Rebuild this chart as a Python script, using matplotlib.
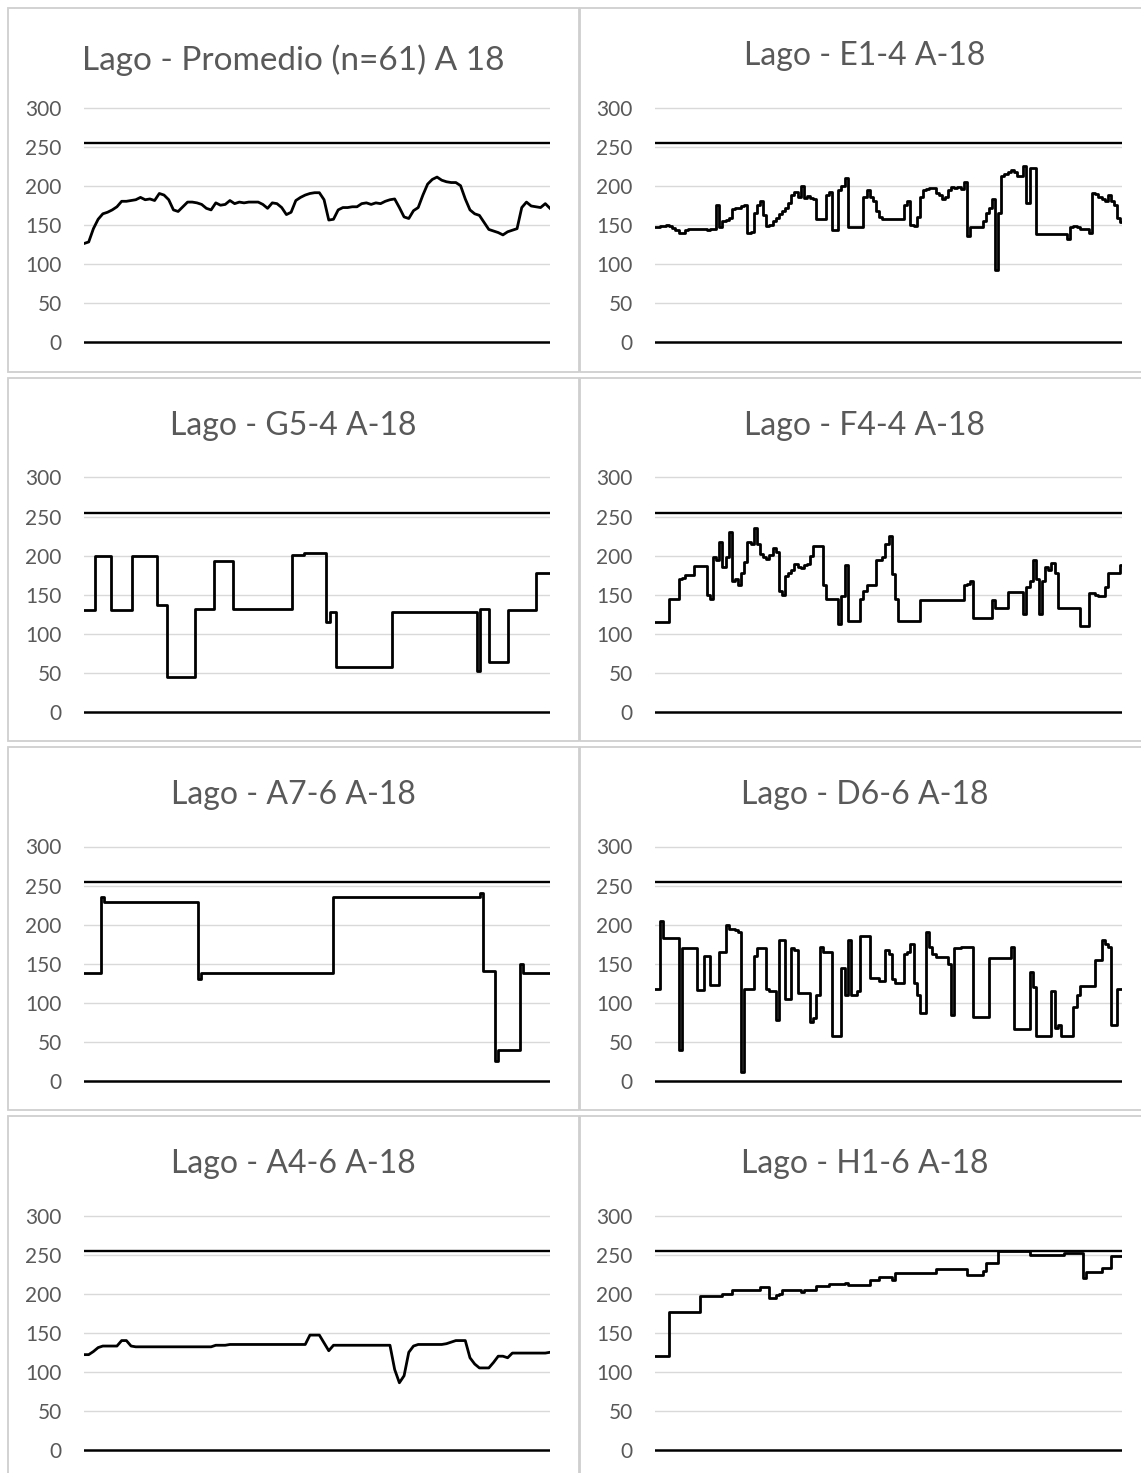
import numpy as np
import matplotlib
matplotlib.use("Agg")
import matplotlib.pyplot as plt
from matplotlib.patches import Rectangle

# ---------------------------------------------------------------- data
titles = [
    "Lago - Promedio (n=61) A 18",
    "Lago - E1-4 A-18",
    "Lago - G5-4 A-18",
    "Lago - F4-4 A-18",
    "Lago - A7-6 A-18",
    "Lago - D6-6 A-18",
    "Lago - A4-6 A-18",
    "Lago - H1-6 A-18",
]

y_ticks = [0, 50, 100, 150, 200, 250, 300]
threshold = 255

promedio = [
    126, 128, 145, 157, 164, 166, 169, 173, 180, 180,
    181, 182, 185, 182, 183, 181, 190, 188, 182, 169,
    167, 173, 179, 179, 178, 176, 171, 169, 178, 175,
    176, 181, 177, 179, 178, 179, 179, 179, 176, 171,
    178, 177, 172, 163, 166, 181, 185, 188, 190, 191,
    191, 182, 156, 157, 169, 172, 172, 173, 173, 177,
    178, 176, 178, 177, 180, 182, 183, 172, 160, 158,
    168, 172, 188, 202, 208, 211, 207, 205, 204, 204,
    200, 183, 169, 164, 162, 153, 144, 142, 140, 137,
    141, 143, 145, 172, 179, 174, 173, 172, 177, 171,
]

e1_4 = [
    147, 147, 148, 149, 150, 149, 146, 143, 140, 140,
    143, 144, 144, 144, 144, 144, 144, 143, 144, 145,
    175, 147, 155, 156, 158, 170, 171, 172, 174, 175,
    140, 141, 165, 175, 180, 162, 148, 150, 155, 158,
    164, 168, 172, 178, 188, 192, 185, 200, 184, 187,
    184, 183, 157, 157, 157, 188, 192, 143, 143, 195,
    200, 210, 147, 147, 147, 147, 147, 185, 195, 185,
    180, 167, 160, 157, 157, 157, 157, 157, 157, 157,
    175, 180, 150, 148, 160, 185, 195, 196, 197, 197,
    190, 188, 183, 186, 195, 198, 197, 198, 196, 205,
    135, 147, 147, 147, 147, 155, 165, 172, 183, 92,
    165, 212, 215, 217, 220, 217, 213, 212, 225, 178,
    222, 222, 138, 138, 138, 138, 138, 138, 138, 138,
    138, 138, 132, 147, 148, 147, 145, 145, 144, 140,
    190, 189, 186, 183, 180, 188, 180, 175, 158, 153,
]

g5_4 = [
    130, 130, 130, 130, 199, 199, 199, 199, 199, 130,
    130, 130, 130, 130, 130, 130, 200, 200, 200, 200,
    200, 200, 200, 200, 137, 137, 137, 45, 45, 45,
    45, 45, 45, 45, 45, 45, 132, 132, 132, 132,
    132, 132, 193, 193, 193, 193, 193, 193, 132, 132,
    132, 132, 132, 132, 132, 132, 132, 132, 132, 132,
    132, 132, 132, 132, 132, 132, 132, 201, 201, 201,
    201, 203, 203, 203, 203, 203, 203, 203, 115, 128,
    128, 58, 58, 58, 58, 58, 58, 58, 58, 58,
    58, 58, 58, 58, 58, 58, 58, 58, 58, 128,
    128, 128, 128, 128, 128, 128, 128, 128, 128, 128,
    128, 128, 128, 128, 128, 128, 128, 128, 128, 128,
    128, 128, 128, 128, 128, 128, 53, 132, 132, 132,
    64, 64, 64, 64, 64, 64, 130, 130, 130, 130,
    130, 130, 130, 130, 130, 178, 178, 178, 178, 178,
]

f4_4 = [
    115, 115, 115, 115, 115, 145, 145, 145, 170, 172,
    175, 175, 175, 187, 187, 187, 187, 150, 145, 198,
    195, 217, 185, 198, 230, 168, 170, 163, 178, 192,
    218, 215, 235, 215, 202, 198, 196, 201, 210, 205,
    155, 150, 174, 178, 182, 189, 186, 184, 188, 189,
    200, 212, 212, 212, 162, 145, 145, 145, 145, 112,
    148, 188, 117, 117, 117, 117, 145, 155, 163, 163,
    163, 195, 194, 198, 215, 225, 176, 145, 117, 117,
    117, 117, 117, 117, 117, 143, 143, 143, 143, 143,
    143, 143, 143, 143, 143, 143, 143, 143, 143, 163,
    164, 167, 120, 120, 120, 120, 120, 120, 143, 133,
    133, 133, 133, 153, 153, 153, 153, 153, 125, 160,
    168, 195, 170, 125, 168, 185, 182, 190, 178, 133,
    133, 133, 133, 133, 133, 133, 110, 110, 110, 152,
    152, 150, 148, 148, 160, 178, 178, 178, 178, 188,
]

a7_6 = [
    138, 138, 138, 138, 138, 138, 235, 229, 229, 229,
    229, 229, 229, 229, 229, 229, 229, 229, 229, 229,
    229, 229, 229, 229, 229, 229, 229, 229, 229, 229,
    229, 229, 229, 229, 229, 229, 229, 130, 138, 138,
    138, 138, 138, 138, 138, 138, 138, 138, 138, 138,
    138, 138, 138, 138, 138, 138, 138, 138, 138, 138,
    138, 138, 138, 138, 138, 138, 138, 138, 138, 138,
    138, 138, 138, 138, 138, 138, 138, 138, 138, 138,
    236, 236, 236, 236, 236, 236, 236, 236, 236, 236,
    236, 236, 236, 236, 236, 236, 236, 236, 236, 236,
    236, 236, 236, 236, 236, 236, 236, 236, 236, 236,
    236, 236, 236, 236, 236, 236, 236, 236, 236, 236,
    236, 236, 236, 236, 236, 236, 236, 240, 141, 141,
    141, 141, 25, 40, 40, 40, 40, 40, 40, 40,
    150, 138, 138, 138, 138, 138, 138, 138, 138, 138,
]

d6_6 = [
    118, 118, 205, 183, 183, 183, 183, 183, 40, 170,
    170, 170, 170, 170, 117, 117, 160, 160, 123, 123,
    123, 165, 165, 200, 195, 195, 193, 190, 12, 118,
    118, 118, 160, 170, 170, 170, 118, 115, 115, 78,
    180, 180, 105, 105, 170, 168, 113, 113, 113, 113,
    75, 80, 110, 172, 165, 165, 165, 57, 57, 57,
    145, 110, 180, 110, 110, 115, 185, 185, 185, 132,
    132, 132, 128, 128, 167, 162, 130, 125, 125, 125,
    163, 165, 175, 125, 110, 87, 87, 190, 172, 163,
    158, 158, 158, 158, 150, 85, 170, 170, 172, 172,
    172, 172, 82, 82, 82, 82, 82, 157, 157, 157,
    157, 157, 157, 157, 172, 66, 66, 66, 66, 66,
    140, 120, 58, 58, 58, 58, 58, 115, 68, 72,
    57, 57, 57, 57, 95, 110, 122, 122, 122, 122,
    122, 155, 155, 180, 175, 172, 72, 72, 118, 118,
]

a4_6 = [
    122, 122, 126, 131, 133, 133, 133, 133, 140, 140,
    133, 132, 132, 132, 132, 132, 132, 132, 132, 132,
    132, 132, 132, 132, 132, 132, 132, 132, 134, 134,
    134, 135, 135, 135, 135, 135, 135, 135, 135, 135,
    135, 135, 135, 135, 135, 135, 135, 135, 147, 147,
    147, 137, 127, 134, 134, 134, 134, 134, 134, 134,
    134, 134, 134, 134, 134, 134, 103, 86, 95, 125,
    133, 135, 135, 135, 135, 135, 135, 136, 138, 140,
    140, 140, 118, 110, 105, 105, 105, 112, 120, 120,
    118, 124, 124, 124, 124, 124, 124, 124, 124, 125,
]

h1_6 = [
    120, 120, 120, 120, 120, 177, 177, 177, 177, 177,
    177, 177, 177, 177, 177, 197, 197, 197, 197, 197,
    197, 197, 199, 199, 199, 205, 205, 205, 205, 205,
    205, 205, 205, 205, 208, 208, 208, 195, 195, 198,
    200, 205, 205, 205, 205, 205, 205, 202, 205, 205,
    205, 205, 210, 210, 210, 210, 212, 212, 212, 212,
    212, 214, 211, 211, 211, 211, 211, 211, 211, 218,
    218, 218, 221, 221, 221, 221, 218, 226, 226, 226,
    226, 226, 226, 226, 226, 226, 226, 226, 226, 226,
    231, 231, 231, 231, 231, 231, 231, 231, 231, 231,
    224, 224, 224, 224, 224, 229, 239, 239, 239, 239,
    254, 254, 254, 254, 254, 254, 254, 254, 254, 254,
    250, 250, 250, 250, 250, 250, 250, 250, 250, 250,
    250, 252, 252, 252, 252, 252, 252, 220, 228, 228,
    228, 228, 228, 233, 233, 233, 248, 248, 248, 248,
]

series = [promedio, e1_4, g5_4, f4_4, a7_6, d6_6, a4_6, h1_6]
draw_styles = ["default", "steps-mid", "steps-mid", "steps-mid",
               "steps-mid", "steps-mid", "default", "steps-mid"]

# ---------------------------------------------------------------- layout
W, H, DPI = 1141, 1473, 100
TEXT = "#595959"
GRID = "#d9d9d9"
BORDER = "#cfcfcf"
FONT = ["Lato", "DejaVu Sans"]

fig = plt.figure(figsize=(W / DPI, H / DPI), dpi=DPI)
fig.patch.set_facecolor("white")

row_tops = [8, 378, 747, 1116]
row_bottoms = [372, 741, 1110, 1490]
col_edges = [(8, 579), (580, 1170)]
plot_x = [(84, 550), (655, 1122)]
title_base = [[62, 57], [57, 57], [57, 57], [57, 57]]
title_size = [[24, 23], [23, 23], [23, 23], [23, 23]]

ymin, ymax = -10, 310


def fx(px):
    return px / W


def fy(py):
    return 1 - py / H


for k, (vals, title, ds) in enumerate(zip(series, titles, draw_styles)):
    r, c = divmod(k, 2)
    top = row_tops[r]

    # panel frame
    x0, x1 = col_edges[c]
    fig.patches.append(Rectangle((fx(x0), fy(row_bottoms[r])),
                                 fx(x1) - fx(x0), fy(top) - fy(row_bottoms[r]),
                                 transform=fig.transFigure, fill=False,
                                 edgecolor=BORDER, lw=1.3, zorder=0))

    # plot area: value 300 sits 99.5 px below the frame top, 0 at 334 px
    y300 = top + 99.5
    y0 = top + 334
    ppu = (y0 - y300) / 300.0
    ax_top = y300 - (ymax - 300) * ppu
    ax_bot = y0 + (0 - ymin) * ppu
    px0, px1 = plot_x[c]
    ax = fig.add_axes([fx(px0), fy(ax_bot), fx(px1) - fx(px0), fy(ax_top) - fy(ax_bot)])

    n = len(vals)
    ax.set_xlim(0, n - 1)
    ax.set_ylim(ymin, ymax)
    for s in ax.spines.values():
        s.set_visible(False)
    ax.set_facecolor("none")

    for t in y_ticks[1:]:
        ax.axhline(t, color=GRID, lw=1.0, zorder=1)
    ax.axhline(0, color="black", lw=1.8, zorder=2)
    ax.axhline(threshold, color="black", lw=1.7, zorder=2)

    ax.plot(np.arange(n), vals, color="black", lw=2.0, drawstyle=ds,
            solid_joinstyle="round", zorder=3)

    ax.set_xticks([])
    ax.set_yticks(y_ticks)
    ax.set_yticklabels([str(t) for t in y_ticks], family=FONT,
                       fontsize=15, color=TEXT)
    ax.tick_params(axis="y", length=0, pad=16)

    cx = (x0 + min(x1, 1150)) / 2.0
    fig.text(fx(cx), fy(top + title_base[r][c]), title, family=FONT,
             fontsize=title_size[r][c], color=TEXT, ha="center", va="baseline")

fig.savefig("out.png", dpi=DPI, facecolor="white")
